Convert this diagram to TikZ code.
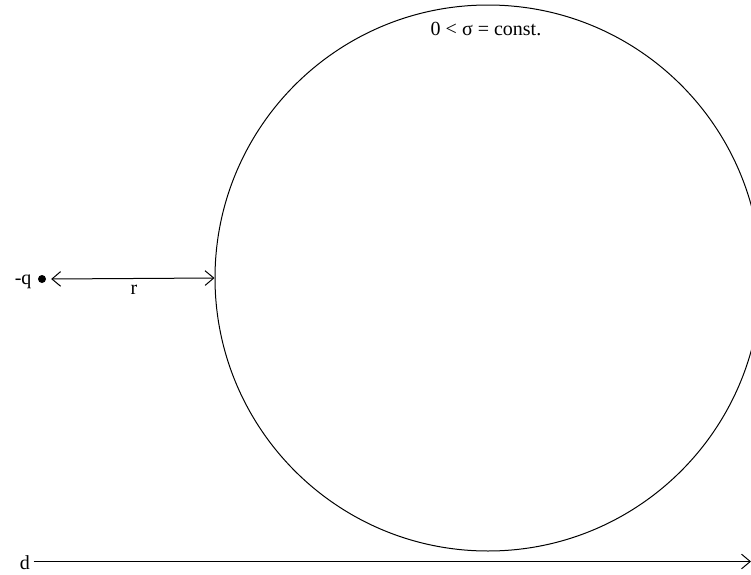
\documentclass[tikz,border=0pt]{standalone}
\usepackage{fontspec}
\setmainfont{Liberation Serif}
\usetikzlibrary{arrows.meta}
\begin{document}
\begin{tikzpicture}[x=0.75pt,y=-0.75pt,
  line width=0.75pt,
  lbl/.style={inner sep=0pt,anchor=base,font=\fontsize{15}{17}\selectfont},
  tip/.style={-{Straight Barb[length=6.5pt,width=11pt]}},
  dtip/.style={{Straight Barb[length=6.5pt,width=11pt]}-{Straight Barb[length=6.5pt,width=11pt]}}]
\useasboundingbox (0,0) rectangle (751,575);
\clip (0,0) rectangle (751,575);
\node[circle,draw,minimum size=409.5pt,inner sep=0pt] (sph) at (488,278) {};
\node[lbl] (sigma) at (486,35) {0 < σ = const.};
\node[circle,fill,inner sep=0pt,minimum size=6pt] (q) at (42,279) {};
\node[lbl,anchor=base east] (qlbl) at (32,284) {-q};
\draw[dtip] ([xshift=3.5pt]q.east) -- (sph.west);
\node[lbl] (r) at (134,294) {r};
\node[lbl] (d) at (25,569) {d};
\coordinate (dend) at (751,561.5);
\draw[tip] (d.east |- dend) ++(3,0) -- (dend);
\end{tikzpicture}
\end{document}
